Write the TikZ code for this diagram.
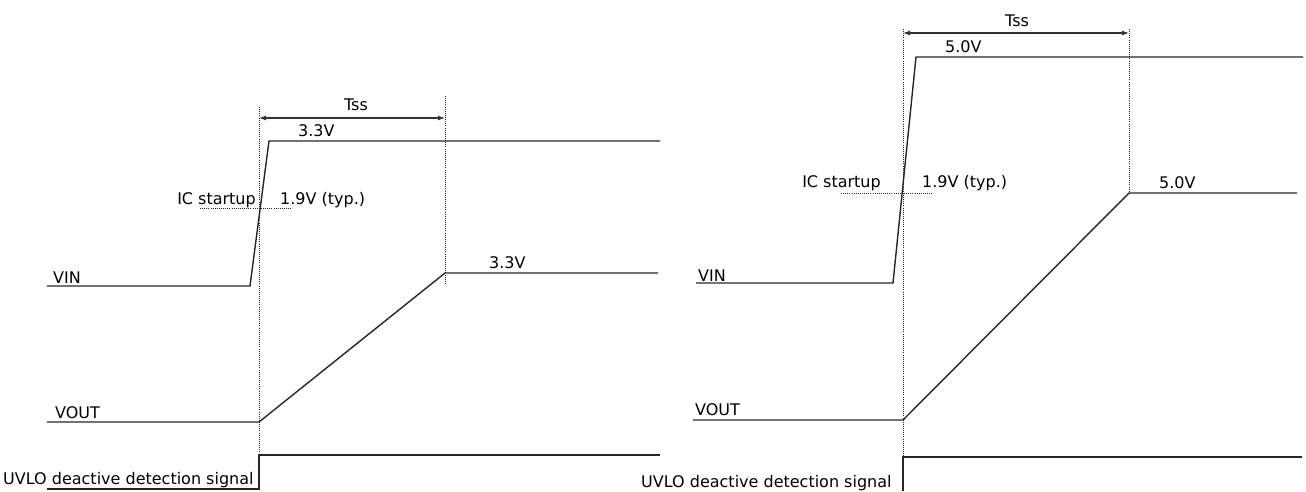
\documentclass[tikz,border=0pt]{standalone}
\usepackage{fontspec}
\setmainfont{DejaVu Sans}
\usetikzlibrary{arrows.meta,positioning}

\begin{document}
\begin{tikzpicture}[x=1pt, y=-1pt, font=\fontsize{16}{19}\selectfont,
  sig/.style={line width=1.4pt, black!85, line join=miter},
  guide/.style={line width=1pt, black!85, dash pattern=on 1pt off 1.1pt},
  span/.style={{Latex[length=7pt,width=5pt]}-{Latex[length=7pt,width=5pt]}, line width=1.1pt, black!80},
  lbl/.style={inner sep=0pt, anchor=base west}]
\useasboundingbox (0,0) rectangle (1306,491);

% left: 3.3V output
\coordinate (vinA0) at (47,286);  \coordinate (vinA1) at (250,286);
\coordinate (vinA2) at (269,141); \coordinate (vinA3) at (660,141);
\coordinate (voA0) at (47,422);   \coordinate (voA1) at (259,422);
\coordinate (voA2) at (445,273);  \coordinate (voA3) at (658,273);
\coordinate (uvA0) at (47,489);   \coordinate (uvA1) at (259,489);
\coordinate (uvA2) at (259,455);  \coordinate (uvA3) at (660,455);
\coordinate (gdA0) at (259,107);  \coordinate (gdA1) at (445,96);
\coordinate (gdA2) at (445,285);
\coordinate (tsA0) at (259,118);  \coordinate (tsA1) at (445,118);
\coordinate (icA0) at (200,208);  \coordinate (icA1) at (292,208);

\draw[sig] (vinA0) -- (vinA1) -- (vinA2) -- (vinA3);
\draw[sig] (voA0) -- (voA1) -- (voA2) -- (voA3);
\draw[sig] (uvA0) -- (uvA1) -- (uvA2) -- (uvA3);
\draw[guide] (gdA0) -- (uvA2);
\draw[guide] (gdA1) -- (gdA2);
\draw[guide] (icA0) -- (icA1);
\draw[span] (tsA0) -- (tsA1);

\node[lbl] (vinLblA) at (53,283) {VIN};
\node[lbl] (voLblA) at (55,418) {VOUT};
\node[lbl] (uvLblA) at (3,484) {UVLO deactive detection signal};
\node[inner sep=0pt, anchor=base] (tsLblA) at (356,110) {Tss};
\node[lbl] (vtopA) at (298,136) {3.3V};
\node[inner sep=0pt, anchor=base east] (icLblA) at (256,204) {IC startup};
\node[lbl] (thrA) at (280,204) {1.9V (typ.)};
\node[lbl] (voutA) at (489,268) {3.3V};

% right: 5.0V output
\coordinate (vinB0) at (696,283);  \coordinate (vinB1) at (893,283);
\coordinate (vinB2) at (916,57);   \coordinate (vinB3) at (1303,57);
\coordinate (voB0) at (693,420);   \coordinate (voB1) at (903,420);
\coordinate (voB2) at (1129,193);  \coordinate (voB3) at (1297,193);
\coordinate (uvB1) at (903,491);
\coordinate (uvB2) at (903,457);   \coordinate (uvB3) at (1302,457);
\coordinate (gdB0) at (903,29);    \coordinate (gdB1) at (1129,29);
\coordinate (tsB0) at (903,33);    \coordinate (tsB1) at (1129,33);
\coordinate (icB0) at (841,193);   \coordinate (icB1) at (933,193);

\draw[sig] (vinB0) -- (vinB1) -- (vinB2) -- (vinB3);
\draw[sig] (voB0) -- (voB1) -- (voB2) -- (voB3);
\draw[sig] (uvB1) -- (uvB2) -- (uvB3);
\draw[guide] (gdB0) -- (uvB2);
\draw[guide] (gdB1) -- (voB2);
\draw[guide] (icB0) -- (icB1);
\draw[span] (tsB0) -- (tsB1);

\node[lbl] (vinLblB) at (698,281) {VIN};
\node[lbl] (voLblB) at (695,415) {VOUT};
\node[lbl] (uvLblB) at (641,487) {UVLO deactive detection signal};
\node[inner sep=0pt, anchor=base] (tsLblB) at (1017,26) {Tss};
\node[lbl] (vtopB) at (945,52) {5.0V};
\node[inner sep=0pt, anchor=base east] (icLblB) at (881,187) {IC startup};
\node[lbl] (thrB) at (922,187) {1.9V (typ.)};
\node[lbl] (voutB) at (1159,188) {5.0V};
\end{tikzpicture}
\end{document}
